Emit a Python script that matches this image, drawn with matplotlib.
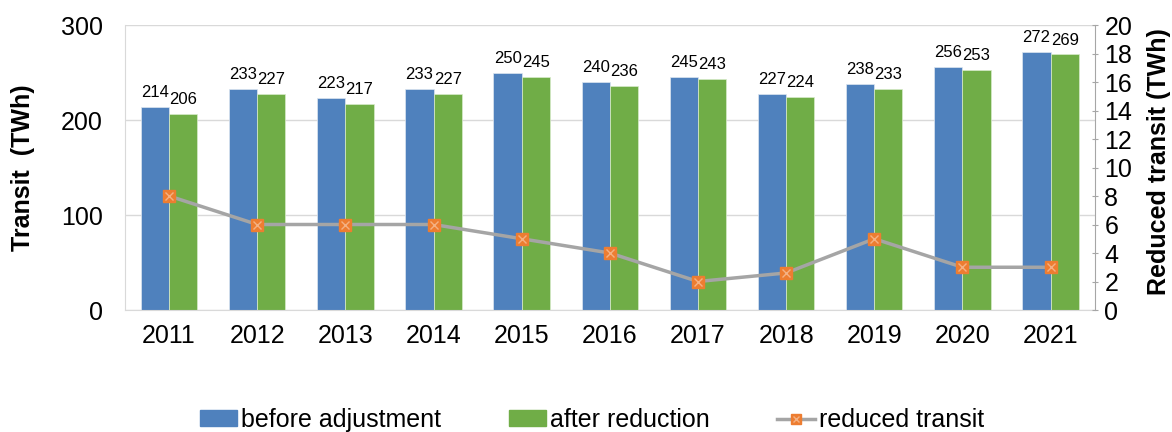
import matplotlib
matplotlib.use("Agg")
import matplotlib.pyplot as plt
import numpy as np
from matplotlib.lines import Line2D
from matplotlib.patches import Patch
from matplotlib.legend_handler import HandlerTuple

plt.rcParams['font.family'] = ['Liberation Sans', 'DejaVu Sans']

years = ['2011', '2012', '2013', '2014', '2015', '2016', '2017', '2018', '2019', '2020', '2021']
before = [214, 233, 223, 233, 250, 240, 245, 227, 238, 256, 272]
after = [206, 227, 217, 227, 245, 236, 243, 224, 233, 253, 269]
reduced = [8, 6, 6, 6, 5, 4, 2, 2.6, 5, 3, 3]

blue = '#4F81BD'
green = '#70AD47'
gray = '#A5A5A5'
orange = '#ED7D31'
FS = 18

fig = plt.figure(figsize=(11.72, 4.32), dpi=100)
ax = fig.add_axes([0.1067, 0.2824, 0.8273, 0.6597])
x = np.arange(len(years))
w = 0.32
ax.bar(x - w/2, before, w, color=blue, edgecolor='#DDE6F0', linewidth=0.5, zorder=2)
ax.bar(x + w/2, after, w, color=green, edgecolor='#D8EBCB', linewidth=0.5, zorder=2)
for i in range(len(years)):
    ax.annotate(str(before[i]), (x[i] - w/2, before[i]), xytext=(0, 5), textcoords='offset points',
                ha='center', va='bottom', fontsize=12)
    ax.annotate(str(after[i]), (x[i] + w/2, after[i]), xytext=(0, 5), textcoords='offset points',
                ha='center', va='bottom', fontsize=12)

ax.set_xlim(-0.5, len(years) - 0.5)
ax.set_ylim(0, 300)
ax.set_yticks([0, 100, 200, 300])
ax.set_xticks(x)
ax.set_xticklabels(years)
ax.grid(axis='y', color='#D9D9D9', linewidth=1, zorder=0)
ax.set_axisbelow(True)
for s in ['top', 'right']:
    ax.spines[s].set_visible(False)
ax.spines['left'].set_color('#D9D9D9')
ax.spines['bottom'].set_color('#D9D9D9')
ax.tick_params(axis='x', length=0, labelsize=FS, pad=10)
ax.tick_params(axis='y', length=0, labelsize=FS, pad=16)

ax2 = ax.twinx()
ax2.set_ylim(0, 20)
ax2.set_yticks(range(0, 21, 2))
ax2.plot(x, reduced, color=gray, linewidth=2.5, zorder=3)
ax2.plot(x, reduced, linestyle='none', marker='s', markersize=8.5, color=orange, zorder=4)
ax2.plot(x, reduced, linestyle='none', marker='x', markersize=6, markeredgewidth=1, color='#F4B183', zorder=5)
for s in ['top', 'left', 'bottom']:
    ax2.spines[s].set_visible(False)
ax2.spines['right'].set_color('#A6A6A6')
ax2.tick_params(axis='y', length=4, direction='inout', color='#A6A6A6', labelsize=FS, pad=5)

fig.text(23/1172, 1 - 168/432, 'Transit  (TWh)', rotation=90, ha='center', va='center',
         fontsize=FS, fontweight='bold')
fig.text(1159/1172, 1 - 162/432, 'Reduced transit (TWh)', rotation=90, ha='center', va='center',
         fontsize=FS, fontweight='bold')

handles = [Patch(color=blue), Patch(color=green),
           (Line2D([], [], color=gray, linewidth=2.5),
            Line2D([], [], linestyle='none', marker='s', markersize=7, color=orange),
            Line2D([], [], linestyle='none', marker='x', markersize=5, color='#F4B183'))]
fig.legend(handles, ['before adjustment', 'after reduction', 'reduced transit'],
           loc='center', bbox_to_anchor=(0.505, 0.028), ncol=3, frameon=False,
           fontsize=FS, handlelength=1.5, handleheight=0.56, handletextpad=0.16,
           columnspacing=2.7, borderpad=0, borderaxespad=0,
           handler_map={tuple: HandlerTuple(ndivide=1)})

fig.savefig('out.png', dpi=100)
